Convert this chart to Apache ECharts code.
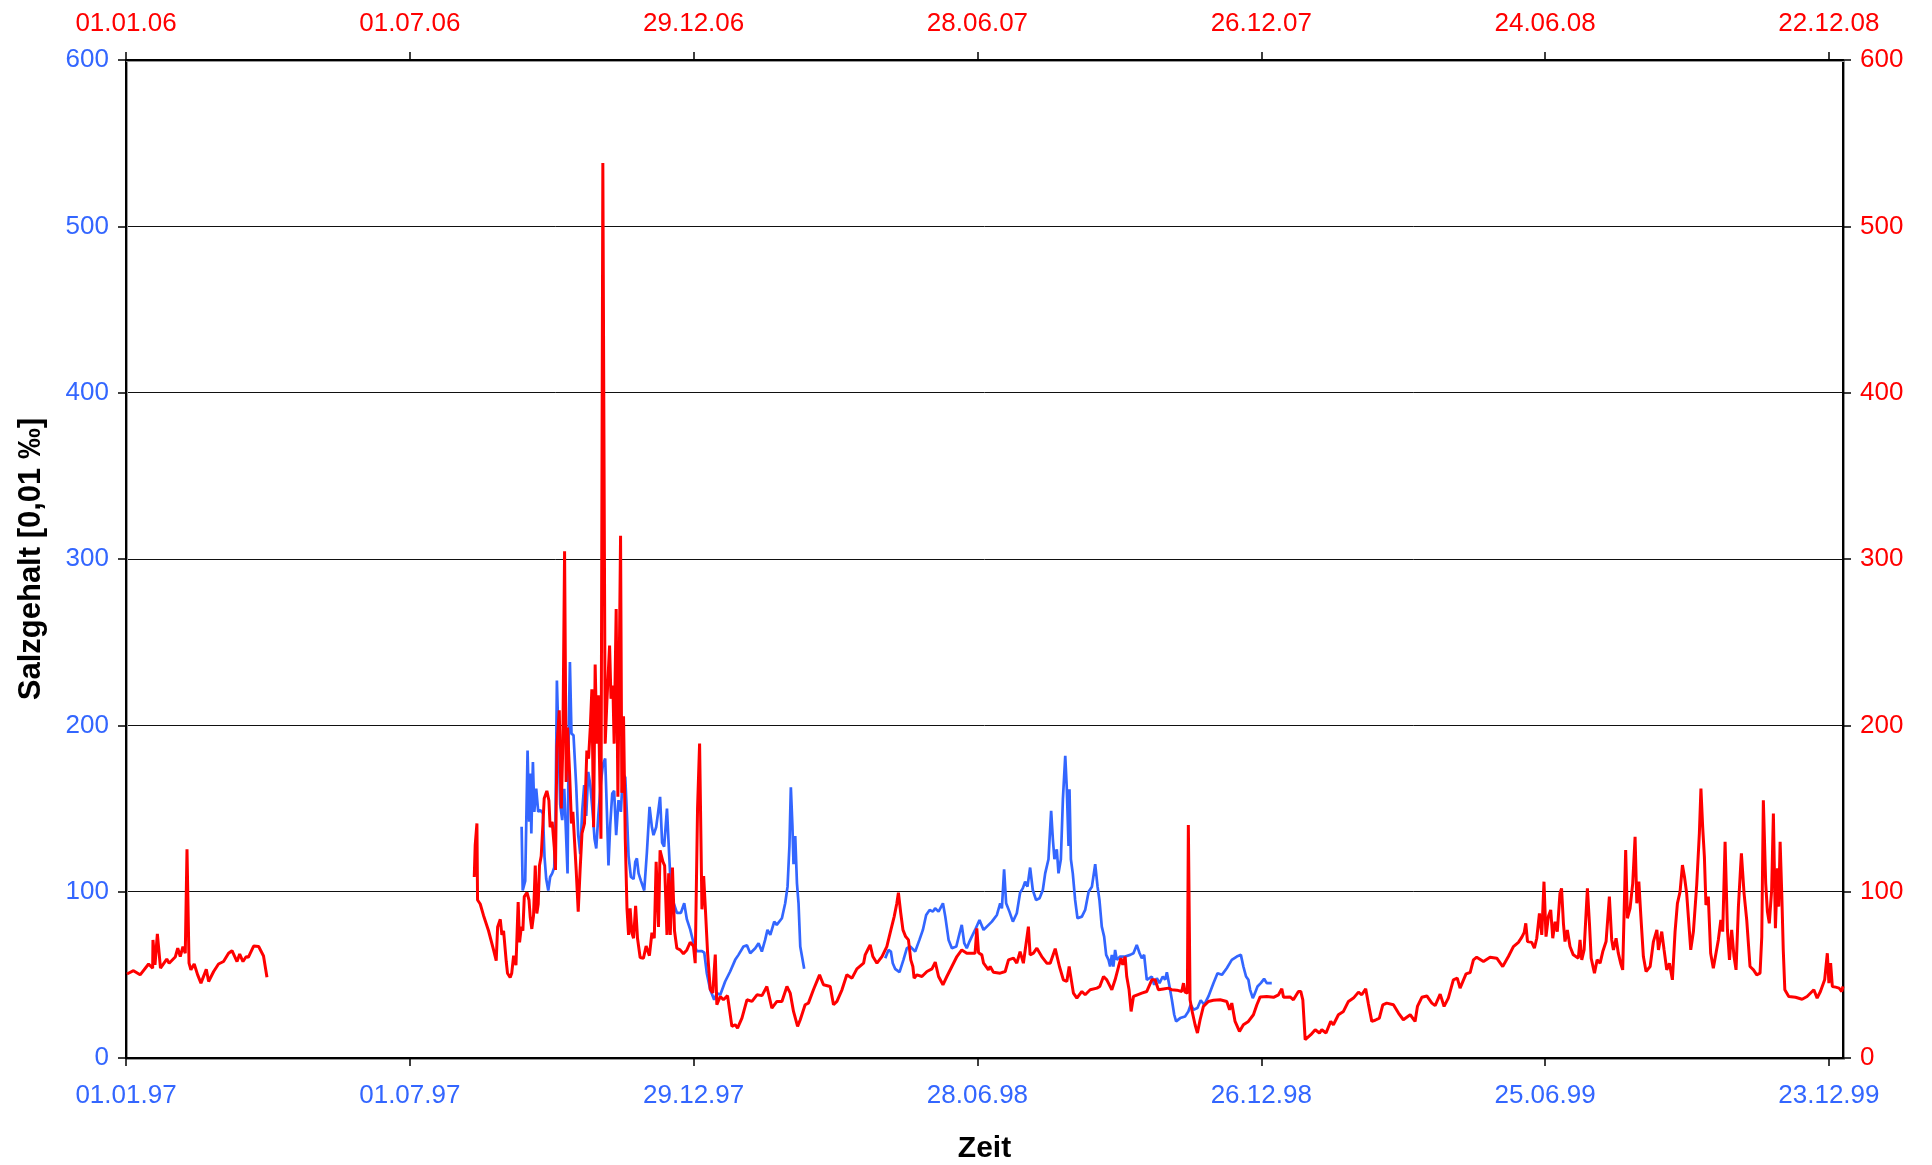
<!DOCTYPE html>
<html>
<head>
<meta charset="utf-8">
<script src="https://cdn.jsdelivr.net/npm/echarts@6/dist/echarts.min.js"></script>
<style>
  html, body { margin: 0; padding: 0; background: #fff; }
  #main { width: 1932px; height: 1165px; }
</style>
</head>
<body>
<div id="main"></div>
<script>
// x values are days counted from the first tick of each axis (01.01.97 below, 01.01.06 above)
const tickDays = [0, 181, 362, 543, 724, 905, 1086];
const bottomTickLabels = ['01.01.97', '01.07.97', '29.12.97', '28.06.98', '26.12.98', '25.06.99', '23.12.99'];
const topTickLabels = ['01.01.06', '01.07.06', '29.12.06', '28.06.07', '26.12.07', '24.06.08', '22.12.08'];
const yTicks = [0, 100, 200, 300, 400, 500, 600];

// blue series (1997-1999, bottom/left axes)
const blueDay = [
  252.3, 253, 254.6, 256.1, 257.1, 257.8, 258.5, 259.5, 260.4, 261.6, 262.9, 264.2, 265.9, 266.9, 268, 269.3,
  270.5, 271.8, 273.1, 273.9, 274.8, 275.9, 276.9, 278.2, 279.5, 280.7, 281.6, 282.4, 283.1, 284.1, 285.4, 287.1,
  288.4, 289.7, 290.9, 292.2, 293.5, 294.8, 296.1, 297.8, 298.8, 299.9, 301.2, 302.9, 304.2, 305.6, 306.7, 307.7,
  308.8, 310.1, 311.3, 312.6, 314.1, 315.6, 316.9, 318.4, 319.5, 320.5, 322, 323.7, 324.8, 325.8, 326.9, 328.4,
  330.5, 332.2, 333.9, 335.4, 336.4, 338.1, 339.4, 340.6, 341.9, 343.2, 345, 346, 347.3, 348.2, 349.2, 351.3,
  353.9, 356, 357.7, 359.8, 361.9, 364, 367.3, 368.8, 370.4, 372.6, 375.1, 376.8, 379, 382.1, 385.3, 388.5,
  390.6, 393.8, 396, 398.1, 401.3, 403.4, 405.5, 407.6, 409.1, 410.9, 413.4, 415, 418.3, 420.4, 421.9, 423.1,
  424, 425, 425.7, 426.8, 427.9, 428.9, 430, 431, 432.5,
  458,
  484.2, 486.3, 487.8, 489, 490.5, 493.3, 495.8, 498, 500.1, 503.3, 506, 508.2, 510.3, 512.5, 514.6, 516,
  518.2, 521, 522.5, 524.6, 526.7, 529.5, 531.6, 533, 534.6, 536.2, 537.9, 539.4, 541.5, 544.3, 546.9, 549,
  552.2, 555.4, 557.5, 558.6, 560, 561.3, 563.4, 565.6, 568.1, 570.2, 571.9, 573.4, 574.9, 576.6, 578.3, 580.4,
  582.6, 584.7, 586.2, 588.3, 590, 591.1, 592.1, 593.6, 594.7, 596.2, 597.5, 599, 600, 601.1, 601.7, 602.6,
  603.8, 605.3, 606.8, 609.6, 611.7, 613.9, 616, 618.1, 619.6, 620.8, 622.3, 623.8, 625.1, 626.6, 627.6, 628.7,
  629.7, 630.8, 631.9, 634, 637.2, 640.4, 642.5, 644.6, 646.4, 647.8, 649.3, 651, 652.7, 654.2, 655.7, 657.4,
  659.1, 661.2, 662.7, 663.8, 665.5, 667, 668.5, 669.7, 672.3, 675.4, 677.5, 679, 680.8, 683.3, 685.4, 687.6,
  690.3, 693.5, 696.1, 698.9, 702, 705.2, 708.4, 711, 712.6, 714.3, 715.8, 716.9, 718.6, 720, 721.6, 723.7,
  725.8, 727.5, 730.7
];
const blueVal = [
  139, 100.7, 106.5, 184.8, 142, 171, 135, 178, 148, 162, 148, 149, 147, 121, 107.6, 100.7,
  108.8, 111, 114.5, 141, 227, 189, 152.5, 143, 161.8, 160.6, 111, 201, 238, 195, 194, 164,
  134, 122.6, 148, 164, 145.6, 172, 164, 145.6, 131.8, 126, 145.6, 166, 176.7, 180, 148, 115.7,
  140, 159, 160.6, 134, 155, 148, 171, 168.7, 145.6, 121.4, 108.8, 107.6, 118, 120, 111, 106.5,
  100.7, 123.7, 151, 138.7, 134, 138.7, 148, 157, 129.5, 127, 150, 130, 105, 95, 93.4, 87.3,
  87.3, 93, 83.3, 77.3, 69.3, 64.3, 64.3, 63.3, 51, 41, 35, 39, 38, 46, 52, 59,
  62, 67, 67.7, 63, 66, 69, 64, 71, 77, 74, 82, 80, 84, 93, 103, 127.5,
  162.7, 139.6, 116.5, 133.5, 105, 93, 67, 66, 53.6,
  null,
  60, 65, 64, 57, 53.6, 51.6, 59, 66, 67, 64, 71, 77, 86, 89, 88, 90,
  88, 93, 85, 71, 66, 67, 75, 80, 69, 66, 70, 73, 77, 83, 77, 79,
  82, 86, 93, 90, 113.5, 93, 88, 82, 87, 99.4, 102, 106, 103, 114.5, 101, 95,
  96, 101, 111, 119.5, 148.6, 131.5, 119.5, 125.5, 111, 119.5, 155.6, 181.7, 161.6, 127.5, 161.6, 119.5,
  111, 95, 84, 85, 89, 100, 103, 116.5, 103, 95, 79, 73, 62, 59, 55, 62,
  55, 65, 59, 61, 61, 62, 63, 68, 63, 60, 62, 47, 48, 49, 44, 48,
  45, 49, 47, 51.6, 43, 35, 26, 22, 24, 25, 28, 32, 29, 30, 34.7, 32,
  37, 45, 51, 50, 54, 59, 61, 62, 55, 49, 47, 41, 36, 39, 43, 45,
  47.6, 45, 45
];

// red series (2006-2008, top/right axes)
const redDay = [
  0.6, 4.8, 9, 14.4, 17, 17.2, 18.5, 20, 22, 26, 27.5, 31.4, 33, 34.6, 36.3, 37.8,
  38.9, 39.5, 40.2, 41.4, 43.5, 45.7, 47.8, 49, 51.2, 52.7, 55.9, 59, 62.2, 65.4, 67.6, 70.8,
  72.5, 74.6, 76.7, 78, 81.4, 84.6, 87.7, 89.9,
  150,
  222.1, 222.7, 223.8, 224.2, 225.9, 228, 231.2, 234.4, 236.1, 237, 238.7, 239.7, 240.8, 242.5, 243.3, 245,
  246, 247.2, 248.7, 250.1, 251, 252.1, 253.1, 254, 255.7, 257, 257.8, 258.8, 259.9, 261, 262, 262.9,
  263.7, 264.8, 265.9, 266.7, 268.4, 269.7, 270.5, 271.8, 273.1, 273.9, 274.8, 276.3, 277.6, 278.6, 279.7, 280.7,
  281.6, 282.9, 284.1, 285, 287.1, 288.4, 289.6, 290.8, 292.4, 293.9, 295, 296.1, 297.1, 298.2, 299.2, 300.3,
  301.2, 302.9, 304.1, 304.8, 305.6, 306.7, 308.4, 309.3, 310.5, 311.3, 312.6, 313.7, 315.4, 316.2, 317.3, 318.4,
  319.5, 320.5, 321.5, 322.6, 323.7, 325, 326.2, 327.9, 330, 331.7, 333.8, 335.4, 336.9, 338.1, 339.6, 340.6,
  342.4, 343.5, 345, 346.1, 347.1, 348.5, 349.8, 351.3, 353.4, 355.5, 357.7, 359.8, 361.9, 363, 364.5, 365.8,
  367.3, 368.4, 369.4, 370.9, 372.6, 374.2, 375.8, 376.8, 379, 381, 383.6, 384.9, 386.4, 388.5, 390, 392.8,
  396, 399.2, 402.4, 405.6, 408.7, 411.9, 415.1, 418.3, 421.5, 423.6, 425.7, 428.3, 430, 433.1, 435.2, 438.4,
  442.3, 444.8, 449.1, 451.2, 453.4, 456.6, 459.7, 463, 466.1, 470.4, 471.4, 473.5, 474.6, 476.3, 478.9, 482.1,
  485.2, 487.8, 489.9, 491.6, 492.6, 494.1, 495.5, 497.2, 499, 500.5, 501.8, 502.6, 504.4, 507.6, 510.8, 514,
  516.1, 518.2, 521, 523.5, 526.7, 529.9, 533, 536.2, 539.4, 541.5, 542.6, 543.7, 545.8, 546.9, 550, 551.1,
  553.2, 557.5, 560.7, 562.8, 566, 568.1, 570.2, 572.3, 575.5, 576.6, 578.7, 580.9, 584, 587.2, 589.4, 592.6,
  595.3, 597.8, 600, 601.5, 604.2, 606.4, 609.6, 611.7, 614.9, 619.2, 621, 623.4, 625.5, 628.7, 630.8, 633,
  634.5, 635.7, 637.2, 638.2, 639.7, 641, 642.5, 645, 647.8, 651, 654.2, 656.3, 658.4, 661.6, 664.8, 667,
  670.1, 673.3, 674.4, 675.4, 676.9, 677.5, 678.1, 678.6, 679.7, 681.8, 683.3, 685, 687.1, 690.3, 693.5, 697.8,
  702, 703.8, 705.2, 707.3, 710.1, 712.6, 715.8, 719, 721.2, 723.3, 727.5, 731.8, 735, 737.1, 738.2, 742.4,
  744.5, 747.7, 749.2, 750.5, 752, 753, 755.6, 758.4, 761.1, 762.6, 765.3, 768.3, 770, 773.2, 776.4, 779.6,
  782.8, 786, 788.1, 790.6, 792.3, 794.5, 796.6, 799.3, 801.5, 804, 808.3, 811.5, 814.6, 819, 822.1, 823.6,
  826.4, 829.6, 832.8, 834.9, 838.1, 840.6, 843.3, 846.5, 849, 850.8, 854.6, 857.2, 859.3, 861.4, 865.7, 869.9,
  874.2, 878, 881.6, 884.8, 888, 890.2, 891.7, 892.7, 893.8, 896.5, 898.2, 899.7, 901.4, 902.9, 904.3, 905.6,
  907.1, 908.6, 909.9, 911.4, 912.8, 914.5, 915.5, 916.7, 917.7, 919.2, 920.9, 923, 926.2, 927.3, 928.4, 929.9,
  932, 933.3, 934.4, 936.5, 938.2, 940.1, 941.8, 943.9, 946, 947.5, 948.6, 950.3, 951.7, 953.2, 954.5, 956.4,
  957.5, 959.2, 960.9, 962.4, 963.5, 964.8, 966.1, 967.7, 969.4, 972, 974.1, 976.3, 977.3, 979.4, 980.9, 982.6,
  984.3, 986.2, 987.9, 989.4, 991.1, 992.6, 993.9, 995.3, 997.9, 999.6, 1001.7, 1003.4, 1004.4, 1005.5, 1006.6, 1007.6,
  1009.1, 1010.6, 1012.3, 1014, 1015.5, 1017.1, 1018.3, 1019.8, 1021.3, 1022.6, 1024, 1025.5, 1026.8, 1028.3, 1030.2, 1031.9,
  1033.6, 1035.7, 1037.9, 1040, 1042.1, 1043.2, 1044.2, 1045.7, 1046.8, 1048, 1049.5, 1050.6, 1051.9, 1053.2, 1054, 1054.9,
  1056, 1056.9, 1057.9, 1060.4, 1064.7, 1068.9, 1072.1, 1076.4, 1078.5, 1080.6, 1083.3, 1085, 1086, 1087.1, 1088.2, 1090.3,
  1092.5, 1094.2, 1095
];
const redVal = [
  50.5, 52.5, 50, 56.5, 54, 71, 56, 74.6, 54, 59.5, 57, 60.7, 66, 61, 67, 63,
  125.5, 125.5, 57, 53, 56.5, 50, 45, 45.5, 53.3, 46, 52, 56.5, 58, 63, 64.5, 58,
  62.5, 58, 61, 60.5, 67.3, 67, 61.3, 48.5,
  null,
  108.8, 128, 141, 95, 92.6, 85.7, 76.5, 65, 58.5, 78.8, 83.4, 74, 76.5, 58, 51, 48.4,
  51, 61.5, 55.8, 93.8, 69.6, 78.8, 76.5, 97, 99.5, 95, 84.6, 77.6, 85.7, 115.7, 86.9, 92.6,
  115.7, 121.4, 141, 156, 160.6, 154.8, 138.7, 142, 127, 113, 187, 209, 150, 189, 304.6, 166,
  198.6, 171, 141, 148, 113, 88, 113, 135, 141, 184.8, 180, 198.6, 221.7, 138.7, 236.6, 189,
  218, 131.8, 538, 538, 189, 214.7, 248, 216, 224, 189, 270, 157, 314, 159.4, 205.5, 131.8,
  90, 74, 90, 75.3, 72, 91.5, 72, 60.4, 60, 67.3, 61.5, 75.3, 72, 118, 78.8, 124.9,
  118, 115.7, 74, 111, 74, 114.5, 76.5, 66, 65, 62.7, 65, 69.6, 67.3, 57, 150, 189,
  89.4, 109.4, 91.4, 63.3, 41.2, 39.2, 62.2, 32, 37, 35, 37.5, 29, 19, 20, 18, 24,
  35, 34, 38, 37.5, 43, 30, 34, 34, 43, 39, 28, 19, 23, 32, 33, 41,
  50, 44, 43, 32, 34, 41, 50, 48, 53.6, 57, 62, 66, 68, 61, 57, 61,
  67, 77, 85, 93, 99.4, 87, 77, 73, 71, 59, 55, 48, 50, 49, 52, 53.6,
  57.6, 49, 44, 49, 55, 61, 65, 63, 63, 63, 78, 63.3, 62, 57, 53, 55,
  51.6, 51, 52, 59, 60, 57, 64, 57, 79, 62, 63, 66, 61, 57, 57, 65.7,
  55, 47, 46, 55, 39, 36, 40, 38, 41, 42, 43, 49, 47, 41, 47, 55,
  60, 56, 61, 49, 41, 28, 37, 38, 39, 40, 47, 47, 41, 41.5, 42, 41,
  40.8, 40, 45, 39.6, 39, 140, 140, 35, 29, 20, 15, 23, 31, 34, 34.7, 35,
  34, 29, 33, 22, 16, 20, 22, 26, 32, 36.7, 37, 36.5, 38, 41.6, 36.5, 36.7,
  35, 40, 40, 35, 11, 10, 14, 17, 15, 17, 15, 22, 20, 26, 28, 34,
  36, 39.6, 38, 41.6, 32.7, 22, 22.7, 24, 32, 33, 32, 27, 23, 26, 22, 31,
  36.5, 37.3, 33, 31.5, 38.4, 31, 36, 47, 48, 42, 50.6, 51.4, 59, 60.6, 58, 60.6,
  60, 55, 61, 67, 69.5, 72.7, 75.5, 81, 70, 69.5, 66, 72, 87, 74, 106, 73,
  85, 89, 72, 82, 76, 99, 102, 81, 70, 77, 67, 62, 60, 71, 59, 65,
  102, 81, 60, 51, 59, 57, 64, 70, 97, 71, 65, 72, 63, 57, 53, 125,
  84, 90, 105, 133, 93, 106, 85, 61, 52, 55, 70, 77, 65, 76, 65, 53,
  57, 47, 76, 93, 100, 116, 109, 99, 65, 76, 104, 135, 162, 139, 121, 92,
  97, 63, 54, 63, 71, 83, 76, 130, 77, 59, 77, 61, 53, 91, 123, 99,
  83, 55, 53, 50, 51, 73, 155, 105, 88, 81, 101, 147, 78, 114, 91, 130,
  97, 65, 41, 37, 36.5, 35.3, 37, 41, 36, 40, 47, 63, 45, 57, 43, 42.6,
  42, 40, 43
];

const BLUE = '#3366FF';
const RED = '#FF0000';
const FONT = 'Liberation Sans, Arial, sans-serif';

function pairs(days, vals) {
  return days.map((d, i) => [d, vals[i]]);
}
function dayLabel(labels) {
  return function (v) {
    const i = tickDays.indexOf(Math.round(v));
    return i >= 0 ? labels[i] : '';
  };
}

const axisLine = { show: true, onZero: false, lineStyle: { color: '#000', width: 2, shadowColor: '#999', shadowOffsetX: 1, shadowOffsetY: 1 } };
const axisTick = { show: true, length: 8, lineStyle: { color: '#000', width: 1.5 } };

const chart = echarts.init(document.getElementById('main'));
chart.setOption({
  animation: false,
  backgroundColor: '#fff',
  grid: { left: 126, right: 89, top: 60, bottom: 107, containLabel: false, outerBoundsMode: 'none' },
  xAxis: [
    {
      type: 'value', position: 'bottom', min: 0, max: 1095,
      axisLine, axisTick: Object.assign({ customValues: tickDays }, axisTick),
      axisLabel: { customValues: tickDays, formatter: dayLabel(bottomTickLabels), color: BLUE, fontSize: 26, fontFamily: FONT, margin: 25 },
      splitLine: { show: false },
      name: 'Zeit', nameLocation: 'middle', nameGap: 76,
      nameTextStyle: { color: '#000', fontSize: 30, fontWeight: 'bold', fontFamily: FONT }
    },
    {
      type: 'value', position: 'top', min: 0, max: 1095,
      axisLine, axisTick: Object.assign({ customValues: tickDays }, axisTick),
      axisLabel: { customValues: tickDays, formatter: dayLabel(topTickLabels), color: RED, fontSize: 26, fontFamily: FONT, margin: 23 },
      splitLine: { show: false }
    }
  ],
  yAxis: [
    {
      type: 'value', position: 'left', min: 0, max: 600, interval: 100,
      axisLine, axisTick,
      axisLabel: { color: BLUE, fontSize: 26, fontFamily: FONT, margin: 17 },
      splitLine: { show: true, lineStyle: { color: '#111', width: 1 } },
      name: 'Salzgehalt [0,01 ‰]', nameLocation: 'middle', nameGap: 79,
      nameTextStyle: { color: '#000', fontSize: 31, fontWeight: 'bold', fontFamily: FONT }
    },
    {
      type: 'value', position: 'right', min: 0, max: 600, interval: 100,
      axisLine, axisTick,
      axisLabel: { color: RED, fontSize: 26, fontFamily: FONT, margin: 17 },
      splitLine: { show: false }
    }
  ],
  series: [
    {
      type: 'line', xAxisIndex: 0, yAxisIndex: 0,
      data: pairs(blueDay, blueVal),
      showSymbol: false, connectNulls: false,
      lineStyle: { color: BLUE, width: 2.7 }
    },
    {
      type: 'line', xAxisIndex: 1, yAxisIndex: 1,
      data: pairs(redDay, redVal),
      showSymbol: false, connectNulls: false,
      lineStyle: { color: RED, width: 3 }
    }
  ]
});
</script>
</body>
</html>
